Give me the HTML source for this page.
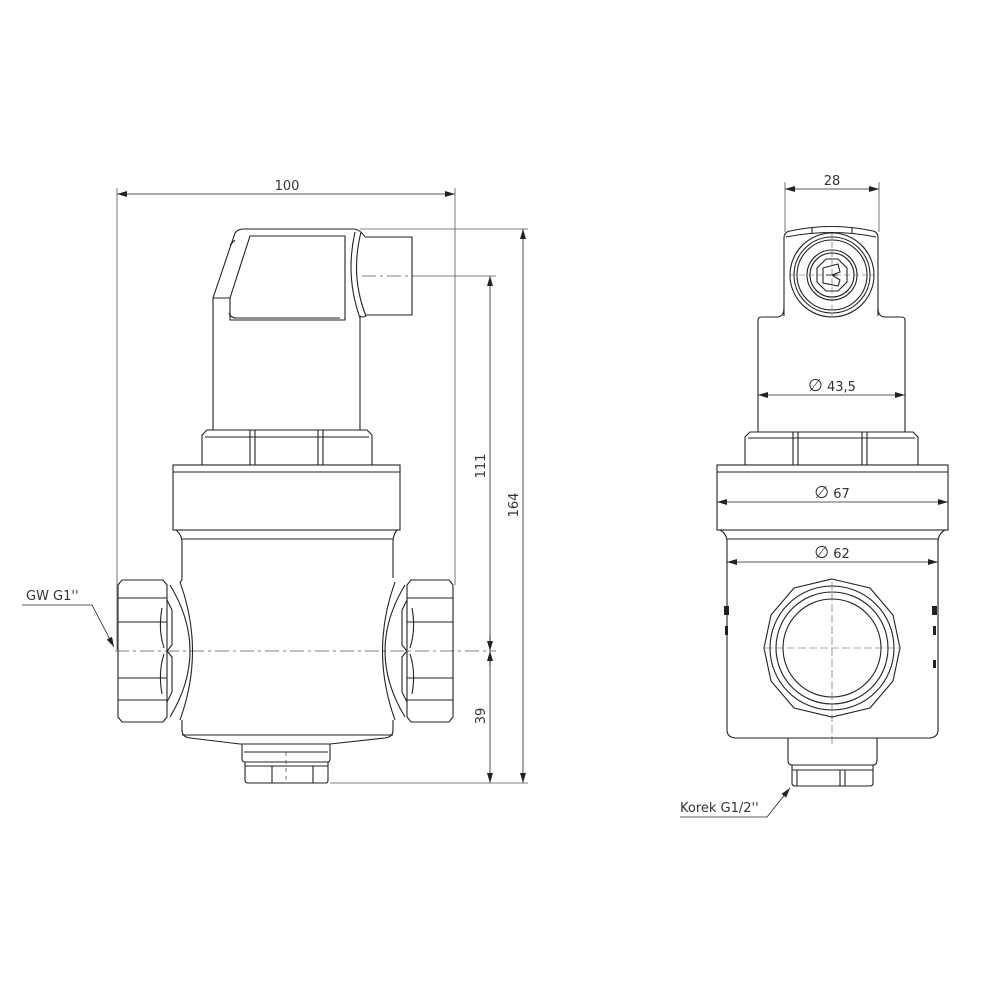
<!DOCTYPE html>
<html><head><meta charset="utf-8"><style>
html,body{margin:0;padding:0;background:#fff}
svg{display:block}
text{font-family:"DejaVu Sans","Liberation Sans",sans-serif;fill:#333;font-size:13px}
</style></head><body>
<svg width="1000" height="1000" viewBox="0 0 1000 1000" xmlns="http://www.w3.org/2000/svg">
<defs>
<marker id="a" viewBox="0 0 10 6" refX="10" refY="3" markerWidth="10" markerHeight="6" orient="auto-start-reverse" markerUnits="userSpaceOnUse"><path d="M0,0 L10,3 L0,6 z" fill="#222"/></marker>
</defs>
<g fill="none" stroke="#222" stroke-width="1.1">
<g stroke="#555" stroke-width="0.8">
<line x1="117" y1="188" x2="117" y2="650"/>
<line x1="455" y1="188" x2="455" y2="585"/>
<line x1="360" y1="229" x2="528" y2="229"/>
<line x1="412" y1="276" x2="496" y2="276"/>
<line x1="330" y1="783" x2="528" y2="783"/>
</g>
<line x1="117" y1="194" x2="455" y2="194" stroke-width="0.8" marker-start="url(#a)" marker-end="url(#a)"/>
<line x1="523" y1="229" x2="523" y2="783" stroke-width="0.8" marker-start="url(#a)" marker-end="url(#a)"/>
<line x1="490" y1="276" x2="490" y2="783" stroke-width="0.8" marker-start="url(#a)" marker-end="url(#a)"/>
<line x1="490" y1="636" x2="490" y2="651" stroke-width="0.8" marker-end="url(#a)"/>
<line x1="490" y1="666" x2="490" y2="651" stroke-width="0.8" marker-end="url(#a)"/>
<g stroke="#555" stroke-width="0.7" stroke-dasharray="14,4,3,4">
<line x1="362" y1="276" x2="412" y2="276"/>
<line x1="115" y1="651" x2="496" y2="651"/>
</g>
<path d="M213,298 L235,233 Q238,229 244,229 L353,229 Q360,229 365,237"/>
<path d="M213,298 L213,430 M360,316 L360,430"/>
<path d="M230,298 L250,236 L345,236 L345,320 L230,320 Z"/>
<path d="M235,240 L230,245 M229,313 Q231,318 236,318 L340,318"/>
<path d="M213,298 L230,298"/>
<path d="M365,237 L412,237 L412,315 L365,315"/>
<path d="M355,232 Q345,276 360,318 M361,232 Q350,276 366,316"/>
<path d="M360,316 Q362,318 366,316"/>
<path d="M202,435 L207,430 L367,430 L372,435 L372,465 L202,465 Z"/>
<path d="M205,437 L369,437 M250,430 L250,465 M255,430 L255,465 M318,430 L318,465 M323,430 L323,465"/>
<rect x="173" y="465" width="227" height="65"/>
<line x1="173" y1="472" x2="400" y2="472"/>
<path d="M176,530 Q182,535 182,542 L182,578 Q182,581 180,582 M176,530 L397,530 Q393,535 393,542 L393,578"/>
<line x1="182" y1="539" x2="393" y2="539"/>
<path d="M182,720 L182,730 Q182,737 190,738 L240,744 L330,744 L385,738 Q393,737 393,730 L393,720"/>
<line x1="182" y1="735" x2="393" y2="735"/>
<path d="M180,582 Q205,651 180,720"/>
<path d="M170,585 Q210,651 170,717"/>
<path d="M395,582 Q370,651 395,720"/>
<path d="M405,585 Q365,651 405,717"/>
<path d="M118,585 L122,580 L163,580 L167,585 L167,717 L163,722 L122,722 L118,717 Z"/>
<path d="M118,598 L167,598 M118,622 L167,622 M118,678 L167,678 M118,700 L167,700"/>
<path d="M162,608 Q158,630 164,648 M162,694 Q158,672 164,654"/>
<path d="M167,600 L172,610 L172,645 L167,651 L172,657 L172,692 L167,702"/>
<path d="M407,585 L411,580 L449,580 L453,585 L453,717 L449,722 L411,722 L407,717 Z"/>
<path d="M407,598 L453,598 M407,622 L453,622 M407,678 L453,678 M407,700 L453,700"/>
<path d="M412,608 Q416,630 410,648 M412,694 Q416,672 410,654"/>
<path d="M407,600 L402,610 L402,645 L407,651 L402,657 L402,692 L407,702"/>
<path d="M242,744 L242,758 Q242,762 245,762 L328,762 Q330,762 330,758 L330,744"/>
<line x1="244" y1="752" x2="328" y2="752"/>
<path d="M245,762 L245,780 Q245,783 248,783 L326,783 Q328,783 328,780 L328,762"/>
<path d="M272,766 L272,783 M313,766 L313,783 M245,766 L328,766"/>
<line x1="286" y1="752" x2="286" y2="783" stroke-dasharray="4,4" stroke-width="0.6"/>
<path d="M22,605 L92,605 L114,647" stroke-width="0.8" marker-end="url(#a)"/>

<g stroke="#555" stroke-width="0.8">
<line x1="785" y1="182" x2="785" y2="232"/>
<line x1="879" y1="182" x2="879" y2="232"/>
</g>
<line x1="785" y1="189" x2="879" y2="189" stroke-width="0.8" marker-start="url(#a)" marker-end="url(#a)"/>
<line x1="758" y1="395" x2="905" y2="395" stroke-width="0.8" marker-start="url(#a)" marker-end="url(#a)"/>
<line x1="717" y1="502" x2="948" y2="502" stroke-width="0.8" marker-start="url(#a)" marker-end="url(#a)"/>
<line x1="727" y1="562" x2="938" y2="562" stroke-width="0.8" marker-start="url(#a)" marker-end="url(#a)"/>
<path d="M784,316 L784,238 Q784,232 790,231 Q832,222 873,231 Q878,232 878,238 L878,316"/>
<path d="M786,237 Q832,228 876,237 M812,228 L812,234 M852,228 L852,234"/>
<circle cx="832" cy="275" r="42"/>
<circle cx="832" cy="275" r="38"/>
<circle cx="832" cy="275" r="35"/>
<circle cx="832" cy="275" r="25"/>
<circle cx="832" cy="275" r="22"/>
<polygon points="826,259 838,259 847,268 847,282 838,291 826,291 817,282 817,268"/>
<path d="M823,268 L838,264 L840,272 L832,275 L840,280 L838,286 L823,283 Z M826,275 L838,275"/>
<g stroke="#555" stroke-width="0.6" stroke-dasharray="6,3"><line x1="790" y1="275" x2="874" y2="275"/><line x1="832" y1="233" x2="832" y2="317"/></g>
<path d="M758,432 L758,320 Q758,317 762,317 L778,317 Q784,316 784,308"/>
<path d="M905,432 L905,320 Q905,317 901,317 L884,317 Q878,316 878,308"/>
<path d="M745,437 L750,432 L913,432 L918,437 L918,465 L745,465 Z"/>
<path d="M748,438 L915,438 M793,432 L793,465 M798,432 L798,465 M862,432 L862,465 M867,432 L867,465"/>
<rect x="717" y="465" width="231" height="65"/>
<line x1="717" y1="472" x2="948" y2="472"/>
<path d="M720,530 Q727,534 727,542 L727,730 Q727,737 735,738 L930,738 Q938,737 938,730 L938,542 Q938,534 945,530"/>
<line x1="727" y1="539" x2="938" y2="539"/>
<path d="M832,579 L870,588 L893,615 L900,648 L893,681 L870,708 L832,717 L794,708 L771,681 L764,648 L771,615 L794,588 Z"/>
<ellipse cx="832" cy="648" rx="62" ry="62"/>
<ellipse cx="832" cy="648" rx="56" ry="56"/>
<ellipse cx="832" cy="648" rx="49" ry="49"/>
<g stroke="#555" stroke-width="0.6" stroke-dasharray="8,3"><line x1="765" y1="648" x2="899" y2="648"/><line x1="832" y1="582" x2="832" y2="745"/></g>
<g fill="#222" stroke="none">
<rect x="724" y="606" width="5" height="9"/><rect x="725" y="626" width="3" height="9"/>
<rect x="932" y="606" width="5" height="9"/><rect x="933" y="626" width="3" height="9"/><rect x="933" y="660" width="3" height="8"/>
</g>
<path d="M788,738 L788,760 Q788,765 792,765 L873,765 Q877,765 877,760 L877,738"/>
<path d="M792,765 L792,783 Q792,786 795,786 L870,786 Q873,786 873,783 L873,765"/>
<path d="M797,770 L797,786 M840,770 L840,786 M845,770 L845,786 M792,770 L873,770"/>
<path d="M680,817 L767,817 L790,788" stroke-width="0.8" marker-end="url(#a)"/>
</g>
<text x="287" y="190" text-anchor="middle">100</text>
<text transform="translate(485,466) rotate(-90)" text-anchor="middle">111</text>
<text transform="translate(518,505) rotate(-90)" text-anchor="middle">164</text>
<text transform="translate(485,716) rotate(-90)" text-anchor="middle">39</text>
<text x="26" y="600">GW G1''</text>
<text x="832" y="185" text-anchor="middle">28</text>
<text x="832" y="391" text-anchor="middle"><tspan font-size="17">∅</tspan> 43,5</text>
<text x="832" y="498" text-anchor="middle"><tspan font-size="17">∅</tspan> 67</text>
<text x="832" y="558" text-anchor="middle"><tspan font-size="17">∅</tspan> 62</text>
<text x="680" y="812">Korek G1/2''</text>
</svg>
</body></html>
